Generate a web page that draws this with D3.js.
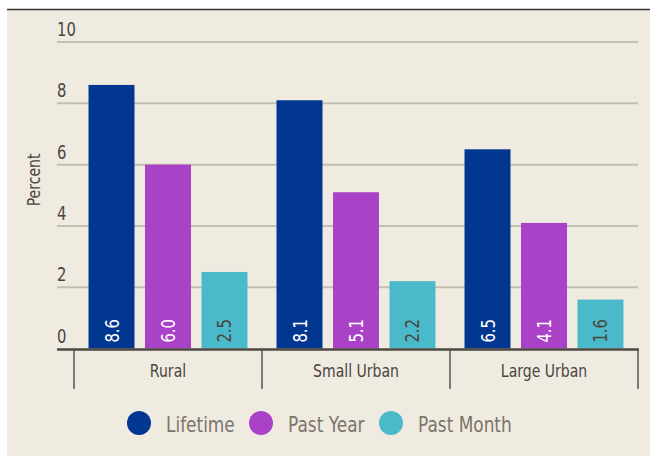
<!DOCTYPE html>
<html>
<head>
<meta charset="utf-8">
<script src="https://cdn.jsdelivr.net/npm/d3@7"></script>
<style>
  body { margin: 0; background: #fff; }
  text { font-family: 'DejaVu Sans', sans-serif; }
</style>
</head>
<body>
<div id="chart"></div>
<script>
const categories = ['Rural', 'Small Urban', 'Large Urban'];
const seriesNames = ['Lifetime', 'Past Year', 'Past Month'];
const lifetime = [8.6, 8.1, 6.5];
const pastYear = [6.0, 5.1, 4.1];
const pastMonth = [2.5, 2.2, 1.6];
const yTicks = [0, 2, 4, 6, 8, 10];

const colors = ['#013691', '#a942c7', '#4abacb'];
const labelColors = ['#fff', '#fff', '#4a463f'];

const width = 650;
const height = 456;
// the original uses a narrow face; squeeze DejaVu horizontally to match
const squeeze = 'scale(0.78, 1)';

const seriesValues = [lifetime, pastYear, pastMonth];
const data = categories.map((c, i) => ({
  category: c,
  values: seriesNames.map((s, j) => ({ series: s, idx: j, value: seriesValues[j][i] })),
}));

const svg = d3.select('#chart').append('svg')
  .attr('width', width)
  .attr('height', height);

// panel background and top rule
svg.append('rect')
  .attr('x', 7).attr('y', 10)
  .attr('width', width - 7).attr('height', height - 10)
  .attr('fill', '#f0ebe0');
svg.append('line')
  .attr('x1', 7).attr('x2', width)
  .attr('y1', 9.5).attr('y2', 9.5)
  .attr('stroke', '#333').attr('stroke-width', 1.5);

const x0 = d3.scaleBand().domain(categories).range([74, 638]);
const x1 = d3.scaleBand().domain(seriesNames).range([0, x0.bandwidth()])
  .paddingInner(0.186).paddingOuter(0.257);
const y = d3.scaleLinear().domain([0, 10]).range([348.6, 42]);

// gridlines + y labels
svg.selectAll('.grid')
  .data(yTicks.filter(d => d > 0))
  .enter().append('line')
  .attr('class', 'grid')
  .attr('x1', 57).attr('x2', 638)
  .attr('y1', d => y(d)).attr('y2', d => y(d))
  .attr('stroke', '#c5bfb2').attr('stroke-width', 2);

svg.selectAll('.ylab')
  .data(yTicks)
  .enter().append('text')
  .attr('class', 'ylab')
  .attr('transform', d => `translate(57, ${y(d) - 6})${squeeze}`)
  .attr('fill', '#4a463f')
  .style('font-size', '19px')
  .text(d => d);

svg.append('text')
  .attr('transform', `translate(40, ${y(5.5)})rotate(-90)${squeeze}`)
  .attr('text-anchor', 'middle')
  .attr('fill', '#4a463f')
  .style('font-size', '18px')
  .text('Percent');

// bars
const groups = svg.selectAll('.group')
  .data(data)
  .enter().append('g')
  .attr('class', 'group')
  .attr('transform', d => `translate(${x0(d.category)}, 0)`);

groups.selectAll('rect')
  .data(d => d.values)
  .enter().append('rect')
  .attr('x', d => x1(d.series))
  .attr('y', d => y(d.value))
  .attr('width', x1.bandwidth())
  .attr('height', d => y(0) - y(d.value))
  .attr('fill', d => colors[d.idx]);

groups.selectAll('.val')
  .data(d => d.values)
  .enter().append('text')
  .attr('class', 'val')
  .attr('transform', d => `translate(${x1(d.series) + x1.bandwidth() / 2 + 7}, ${y(0) - 6})rotate(-90)${squeeze}`)
  .attr('fill', d => labelColors[d.idx])
  .style('font-size', '19px')
  .text(d => d.value.toFixed(1));

// x axis
svg.append('line')
  .attr('x1', 57).attr('x2', 639)
  .attr('y1', y(0) + 1).attr('y2', y(0) + 1)
  .attr('stroke', '#4f4a42').attr('stroke-width', 2.5);

const tickXs = categories.map(c => x0(c)).concat([x0.range()[1]]);
svg.selectAll('.xtick')
  .data(tickXs)
  .enter().append('line')
  .attr('class', 'xtick')
  .attr('x1', d => d).attr('x2', d => d)
  .attr('y1', y(0)).attr('y2', 389)
  .attr('stroke', '#5a554c').attr('stroke-width', 1.5);

svg.selectAll('.xlab')
  .data(categories)
  .enter().append('text')
  .attr('class', 'xlab')
  .attr('transform', d => `translate(${x0(d) + x0.bandwidth() / 2}, 377)${squeeze}`)
  .attr('text-anchor', 'middle')
  .attr('fill', '#4a463f')
  .style('font-size', '18px')
  .text(d => d);

// legend
const legendX = [139, 261, 391];
const legend = svg.selectAll('.legend')
  .data(seriesNames)
  .enter().append('g')
  .attr('class', 'legend')
  .attr('transform', (d, i) => `translate(${legendX[i]}, 423)`);

legend.append('circle')
  .attr('r', 12)
  .attr('fill', (d, i) => colors[i]);

legend.append('text')
  .attr('transform', 'translate(27, 8.5)scale(0.77, 1)')
  .attr('fill', '#7a756c')
  .style('font-size', '22px')
  .text(d => d);
</script>
</body>
</html>
